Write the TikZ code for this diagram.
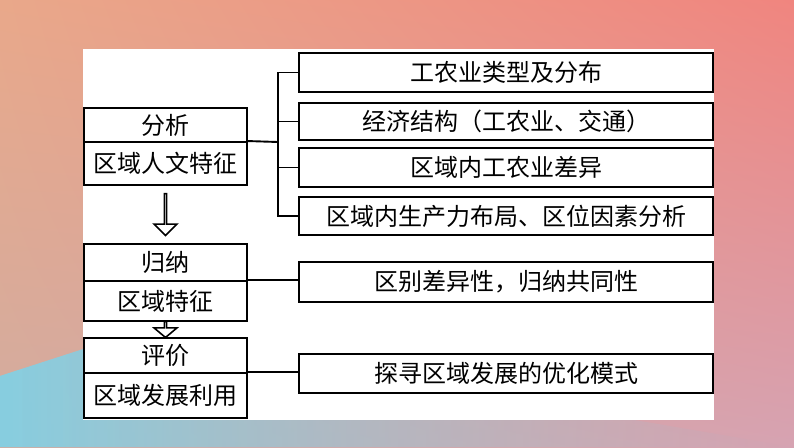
\documentclass[tikz,border=0pt]{standalone}
\usepackage{fontspec}
\setmainfont{Noto Sans CJK SC}
\usepackage{tikz}
\usetikzlibrary{shapes.arrows,shadings,fadings}

\definecolor{bgtl}{RGB}{233,168,138}
\definecolor{bgtr}{RGB}{240,133,127}
\definecolor{bgml}{RGB}{210,172,160}
\definecolor{bgbl}{RGB}{135,206,224}
\definecolor{bgbr}{RGB}{214,163,178}

\tikzset{
  half/.style={draw, line width=1.9pt, minimum width=163pt, inner sep=0pt,
    font=\fontsize{24pt}{26pt}\selectfont},
  item/.style={draw, line width=1.9pt, minimum width=414pt, inner sep=0pt,
    font=\fontsize{24pt}{26pt}\selectfont},
  link/.style={line width=1.9pt},
  hollow/.style={draw, line width=1.6pt, shape=single arrow, rotate=-90,
    minimum width=23pt, single arrow head extend=7pt,
    single arrow head indent=0pt, inner sep=0pt}
}

\begin{document}
\begin{tikzpicture}[x=1pt,y=-1pt]
  %% background
  \shade[upper left=bgtl, upper right=bgtr, lower left=bgml, lower right=bgbr]
    (0,0) rectangle (794,447);
  \shade[left color=bgbl, right color=bgbl!60!bgbr, path fading=east]
    (0,376) -- (130,334) -- (794,447) -- (0,447) -- cycle;
  \fill[white] (83,49) rectangle (714,420);
  %% left column
  \node[half, minimum height=34pt] (fenxi)  at (165.5,125)   {分析};
  \node[half, minimum height=43pt] (renwen) at (165.5,163.5) {区域人文特征};
  \node[half, minimum height=37pt] (guina)  at (165.5,262.5) {归纳};
  \node[half, minimum height=40pt] (tezheng) at (165.5,301)  {区域特征};
  \node[half, minimum height=35pt] (pingjia) at (165.5,355.5) {评价};
  \node[half, minimum height=45pt] (liyong) at (165.5,395.5) {区域发展利用};
  %% hollow arrows
  \node[hollow, minimum height=42pt] (down1) at (165.5,214) {};
  \node[hollow, minimum height=16pt, single arrow tip angle=100] (down2) at (165.5,329) {};
  %% right column
  \node[item, minimum height=39pt] (leixing) at (506,72.5)  {工农业类型及分布};
  \node[item, minimum height=37pt] (jiegou)  at (506,121.5) {经济结构（工农业、交通）};
  \node[item, minimum height=39pt] (chayi)   at (506,167.5) {区域内工农业差异};
  \node[item, minimum height=38pt] (buju)    at (506,216)   {区域内生产力布局、区位因素分析};
  \node[item, minimum height=40pt] (gongtong) at (506,282)  {区别差异性，归纳共同性};
  \node[item, minimum height=39pt] (moshi)   at (506,373.5) {探寻区域发展的优化模式};
  %% connectors
  \coordinate (hub) at (278,142);
  \draw[link] (renwen.north east) -- (hub);
  \draw[link] (hub) |- (leixing.west);
  \draw[link] (hub) |- (jiegou.west);
  \draw[link] (hub) |- (chayi.west);
  \draw[link] (hub) |- (buju.west);
  \draw[link] (tezheng.north east) -- (tezheng.north east -| gongtong.west);
  \draw[link] (liyong.north east) -- (liyong.north east -| moshi.west);
\end{tikzpicture}
\end{document}
